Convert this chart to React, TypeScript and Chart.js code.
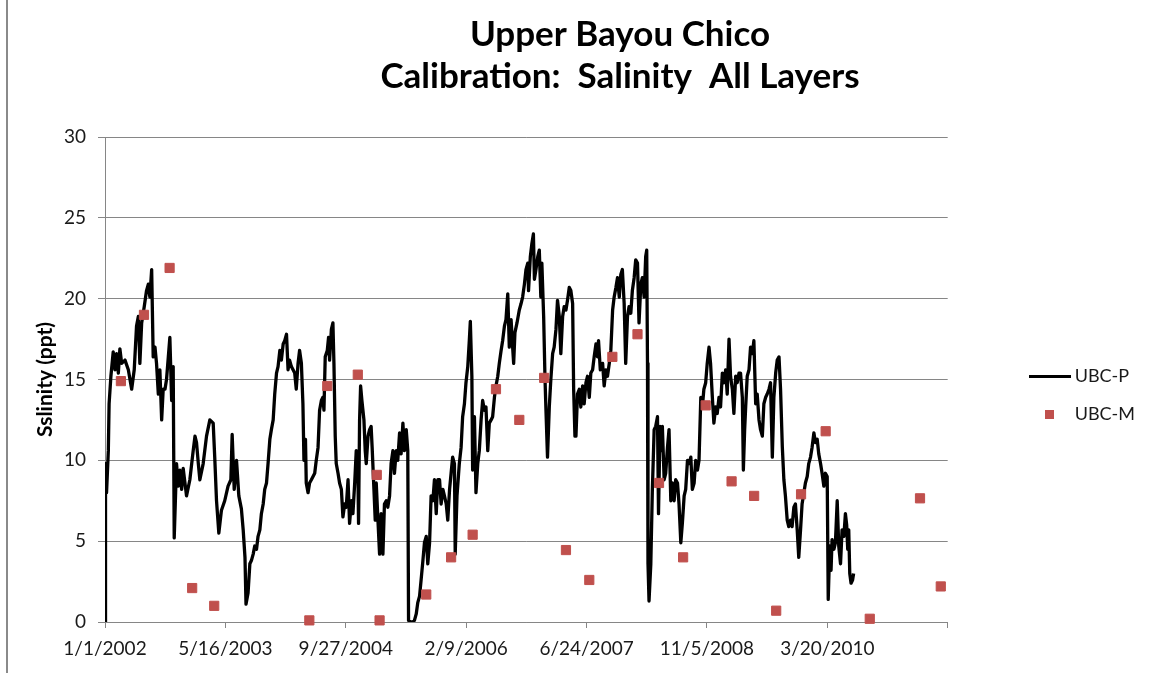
import React, { useEffect, useRef } from "react";
import { Chart, registerables } from "chart.js";

Chart.register(...registerables);

const chartTitle = ["Upper Bayou Chico", "Calibration:  Salinity  All Layers"];
const yAxisTitle = "Sslinity (ppt)";
const seriesNames = ["UBC-P", "UBC-M"];
const xTickLabels = ["1/1/2002", "5/16/2003", "9/27/2004", "2/9/2006", "6/24/2007", "11/5/2008", "3/20/2010"];
const xTickStepDays = 500;
const xMaxDays = 3287;
const yMax = 30;
const yStep = 5;

// UBC-P (model), x = days since 1/1/2002
const modelDays = [
  0, 2, 6, 13, 16, 23, 32, 39, 45, 52,
  58, 65, 78, 91, 104, 114, 123, 130, 136, 143,
  153, 162, 169, 175, 182, 188, 195, 201, 208, 214,
  221, 227, 234, 240, 247, 253, 260, 266, 270, 279,
  286, 292, 299, 305, 318, 331, 344, 351, 357, 364,
  370, 383, 396, 409, 422, 428, 435, 444, 454, 467,
  480, 491, 496, 504, 513, 522, 532, 539, 546, 550,
  558, 565, 571, 578, 584, 591, 597, 604, 610, 617,
  623, 630, 636, 643, 649, 656, 662, 669, 675, 682,
  688, 695, 701, 708, 714, 720, 727, 740, 746, 753,
  759, 766, 772, 776, 782, 785, 792, 798, 805, 818,
  824, 831, 837, 844, 850, 854, 859, 867, 872, 876,
  883, 889, 893, 898, 902, 909, 915, 922, 928, 935,
  941, 948, 954, 961, 967, 974, 980, 987, 989, 993,
  997, 1002, 1010, 1015, 1019, 1026, 1032, 1038, 1042, 1049,
  1054, 1058, 1064, 1071, 1077, 1084, 1090, 1097, 1103, 1110,
  1116, 1123, 1129, 1136, 1142, 1149, 1155, 1162, 1168, 1175,
  1181, 1184, 1192, 1201, 1207, 1214, 1220, 1227, 1233, 1240,
  1246, 1253, 1259, 1266, 1272, 1279, 1285, 1292, 1298, 1305,
  1311, 1318, 1324, 1331, 1337, 1344, 1350, 1356, 1363, 1366,
  1373, 1382, 1389, 1395, 1402, 1408, 1415, 1421, 1425, 1431,
  1434, 1441, 1447, 1454, 1460, 1467, 1473, 1480, 1486, 1493,
  1499, 1506, 1512, 1519, 1525, 1532, 1538, 1545, 1551, 1558,
  1564, 1571, 1577, 1584, 1590, 1594, 1599, 1607, 1616, 1623,
  1629, 1636, 1642, 1649, 1652, 1659, 1665, 1671, 1675, 1681,
  1688, 1694, 1700, 1704, 1711, 1716, 1720, 1726, 1733, 1739,
  1746, 1752, 1759, 1765, 1772, 1778, 1785, 1791, 1798, 1804,
  1811, 1817, 1824, 1828, 1833, 1837, 1843, 1850, 1856, 1863,
  1869, 1876, 1882, 1889, 1895, 1902, 1908, 1915, 1921, 1925,
  1932, 1941, 1947, 1954, 1960, 1967, 1973, 1980, 1986, 1993,
  1999, 2006, 2012, 2018, 2025, 2031, 2038, 2044, 2051, 2057,
  2064, 2070, 2077, 2083, 2090, 2096, 2103, 2109, 2113, 2116,
  2118, 2122, 2129, 2135, 2142, 2148, 2155, 2159, 2165, 2170,
  2174, 2181, 2187, 2194, 2200, 2207, 2213, 2220, 2226, 2233,
  2239, 2246, 2252, 2259, 2265, 2272, 2278, 2285, 2291, 2298,
  2304, 2311, 2317, 2324, 2330, 2336, 2343, 2349, 2356, 2362,
  2369, 2375, 2382, 2388, 2395, 2401, 2408, 2414, 2421, 2427,
  2434, 2440, 2447, 2453, 2460, 2466, 2473, 2479, 2486, 2490,
  2495, 2499, 2505, 2512, 2518, 2525, 2531, 2538, 2544, 2551,
  2557, 2564, 2570, 2577, 2583, 2590, 2596, 2603, 2609, 2616,
  2622, 2629, 2635, 2642, 2648, 2654, 2661, 2667, 2674, 2680,
  2687, 2693, 2700, 2706, 2713, 2719, 2726, 2732, 2739, 2745,
  2752, 2758, 2765, 2771, 2778, 2784, 2791, 2797, 2804, 2810,
  2817, 2821, 2827, 2832, 2836, 2843, 2849, 2856, 2862, 2869,
  2875, 2882, 2888, 2893, 2897, 2901, 2905, 2910, 2916, 2920,
];
const modelSalinity = [
  0, 9.8, 8.0, 10.6, 13.5, 15.2, 16.7, 15.6, 16.6, 15.4,
  16.9, 16.0, 16.2, 15.6, 14.4, 15.6, 18.3, 18.9, 16.0, 18.5,
  19.5, 20.5, 20.9, 20.1, 21.8, 16.4, 17.0, 16.0, 14.1, 15.6,
  12.5, 14.4, 14.4, 15.0, 16.4, 17.6, 13.7, 15.8, 5.2, 9.8,
  8.4, 9.4, 8.2, 9.5, 7.8, 8.8, 10.6, 11.5, 11.1, 9.8,
  8.8, 9.8, 11.5, 12.5, 12.3, 10.2, 7.5, 5.5, 6.9, 7.5,
  8.4, 8.8, 11.6, 8.2, 10.0, 7.8, 7.0, 5.7, 4.0, 1.1,
  1.8, 3.6, 3.8, 4.2, 4.7, 4.5, 5.3, 5.7, 6.7, 7.3,
  8.2, 8.6, 9.8, 11.3, 11.9, 12.5, 14.1, 15.4, 15.8, 16.8,
  16.2, 17.2, 17.4, 17.8, 15.6, 16.2, 15.8, 15.4, 14.4, 16.0,
  16.8, 16.0, 13.5, 10.0, 11.3, 8.6, 8.0, 8.6, 8.8, 9.2,
  10.0, 10.8, 13.1, 13.7, 13.9, 13.1, 16.4, 16.8, 17.6, 16.2,
  18.1, 18.5, 16.0, 11.5, 9.8, 9.2, 8.6, 8.2, 6.5, 7.3,
  7.1, 8.8, 6.1, 7.5, 6.7, 8.6, 10.6, 8.6, 6.1, 12.5,
  14.6, 13.7, 12.5, 10.6, 9.8, 11.5, 11.9, 12.1, 10.8, 8.2,
  6.3, 8.6, 6.5, 4.2, 6.7, 4.2, 7.3, 7.5, 7.1, 7.8,
  9.8, 10.6, 9.2, 10.6, 10.0, 11.7, 10.4, 12.3, 10.6, 11.9,
  10.6, 0.1, 0.0, 0.0, 0.1, 0.5, 1.2, 1.6, 2.6, 3.8,
  4.9, 5.3, 3.6, 4.9, 7.8, 7.5, 8.8, 6.7, 8.8, 8.8,
  7.3, 8.2, 7.8, 7.3, 6.3, 8.2, 9.2, 10.2, 9.8, 4.2,
  7.8, 9.8, 10.8, 12.7, 13.5, 14.8, 15.8, 17.4, 18.6, 15.2,
  9.4, 12.7, 8.0, 9.8, 10.6, 12.5, 13.7, 13.1, 13.3, 10.6,
  12.3, 12.5, 12.7, 13.9, 14.6, 15.2, 16.0, 16.8, 17.4, 18.3,
  18.7, 20.3, 17.0, 18.7, 17.0, 16.0, 17.9, 18.5, 19.3, 19.7,
  20.1, 20.9, 21.8, 22.2, 20.5, 22.6, 23.4, 24.0, 21.2, 21.8,
  22.6, 23.0, 20.1, 22.2, 18.9, 15.2, 13.1, 10.2, 13.3, 15.0,
  16.6, 17.0, 18.1, 19.9, 18.9, 16.6, 18.9, 19.5, 19.3, 19.9,
  20.7, 20.5, 19.7, 14.4, 11.5, 11.5, 14.1, 14.4, 13.3, 14.6,
  13.5, 14.8, 15.2, 13.9, 15.4, 15.6, 16.4, 17.2, 16.4, 17.4,
  15.6, 16.0, 14.6, 15.6, 15.2, 16.0, 16.8, 19.3, 20.1, 20.7,
  21.3, 20.1, 21.5, 21.8, 19.7, 16.0, 18.9, 19.5, 19.1, 20.5,
  21.3, 22.4, 22.2, 18.5, 20.9, 21.3, 20.1, 22.6, 23.0, 16.0,
  3.6, 1.3, 3.6, 8.2, 11.9, 12.1, 12.7, 6.7, 12.1, 10.6,
  12.1, 8.8, 9.2, 10.8, 11.9, 7.5, 8.6, 7.5, 8.8, 8.6,
  7.3, 4.9, 6.1, 7.8, 8.2, 10.0, 9.8, 10.2, 8.2, 8.6,
  10.0, 9.4, 10.0, 13.9, 13.3, 14.4, 14.8, 16.0, 17.0, 16.0,
  13.9, 12.3, 13.3, 12.9, 13.9, 13.3, 15.4, 14.8, 15.6, 14.1,
  17.5, 15.2, 14.4, 12.9, 15.2, 14.8, 15.4, 15.4, 13.9, 9.4,
  11.9, 13.3, 15.2, 15.6, 17.0, 16.6, 17.4, 13.5, 14.1, 12.5,
  11.9, 11.5, 13.5, 13.9, 14.1, 14.4, 14.8, 10.2, 13.9, 15.4,
  16.2, 16.4, 14.4, 10.8, 8.8, 7.8, 6.3, 5.9, 6.3, 5.9,
  7.1, 7.3, 5.7, 4.0, 5.7, 7.3, 8.0, 8.6, 9.0, 9.8,
  10.2, 10.8, 11.7, 11.1, 11.3, 10.4, 9.8, 9.2, 8.4, 9.2,
  9.0, 1.4, 4.7, 3.2, 5.1, 4.5, 4.9, 7.5, 4.7, 3.6,
  5.7, 5.3, 6.7, 6.0, 4.5, 5.7, 3.0, 2.4, 2.6, 3.0,
];

// UBC-M (measured), x = days since 1/1/2002
const measuredDays = [
  62, 152, 252, 340, 426, 797, 867, 986, 1060, 1071,
  1253, 1350, 1434, 1525, 1616, 1713, 1798, 1889, 1979, 2077,
  2161, 2255, 2343, 2444, 2532, 2618, 2715, 2811, 2983, 3179, 3260,
];
const measuredSalinity = [
  14.9, 19.0, 21.9, 2.1, 1.0, 0.1, 14.6, 15.3, 9.1, 0.1,
  1.7, 4.0, 5.4, 14.4, 12.5, 15.1, 4.45, 2.6, 16.4, 17.8,
  8.6, 4.0, 13.4, 8.7, 7.8, 0.7, 7.9, 11.8, 0.2, 7.65, 2.2,
];

const FONT = "Lato, 'Open Sans', sans-serif";
const GRID = "#868686";
const RED = "#C0504D";
const TEXT = "#1a1a1a";

export default function App() {
  const ref = useRef<HTMLCanvasElement | null>(null);

  useEffect(() => {
    const canvas = ref.current;
    if (!canvas) return;

    const lineImg = document.createElement("canvas");
    lineImg.width = 42;
    lineImg.height = 3;
    const lc = lineImg.getContext("2d")!;
    lc.fillStyle = "#000";
    lc.fillRect(0, 0, 42, 3);

    const sqImg = document.createElement("canvas");
    sqImg.width = 9;
    sqImg.height = 9;
    const sc = sqImg.getContext("2d")!;
    sc.fillStyle = RED;
    sc.fillRect(0, 0, 9, 9);

    const titlePlugin = {
      id: "twoLineTitle",
      afterDraw(chart: any) {
        const ctx = chart.ctx;
        ctx.save();
        ctx.font = `bold 35px ${FONT}`;
        ctx.fillStyle = "#000";
        ctx.textAlign = "center";
        ctx.textBaseline = "alphabetic";
        ctx.fillText(chartTitle[0], 611, 46);
        ctx.fillText(chartTitle[1], 611, 88);
        ctx.restore();
      },
    };

    const chart = new Chart(canvas, {
      type: "scatter",
      data: {
        datasets: [
          {
            label: seriesNames[0],
            data: modelDays.map((d, i) => ({ x: d, y: modelSalinity[i] })),
            showLine: true,
            borderColor: "#000",
            backgroundColor: "#000",
            borderWidth: 3.3,
            pointRadius: 0,
            tension: 0,
            borderJoinStyle: "round",
            order: 2,
          } as any,
          {
            label: seriesNames[1],
            data: measuredDays.map((d, i) => ({ x: d, y: measuredSalinity[i] })),
            showLine: false,
            pointStyle: "rect",
            pointRadius: 6.5,
            backgroundColor: RED,
            borderColor: RED,
            borderWidth: 1,
            order: 1,
            clip: false,
          } as any,
        ],
      },
      options: {
        responsive: false,
        animation: false,
        events: [],
        layout: { padding: { top: 137, left: 0, right: 6, bottom: 0 } },
        plugins: {
          title: { display: false },
          tooltip: { enabled: false },
          legend: {
            display: true,
            position: "right",
            fullSize: false,
            title: { display: true, text: "", font: { size: 12 }, padding: { top: 0, bottom: 17 } },
            labels: {
              usePointStyle: true,
              pointStyleWidth: 32,
              boxHeight: 18,
              padding: 20,
              color: TEXT,
              font: { family: FONT, size: 18 },
              generateLabels: (c: any) => {
                const items = (Chart.defaults.plugins.legend.labels as any).generateLabels(c);
                items.sort((a: any, b: any) => a.datasetIndex - b.datasetIndex);
                items.forEach((it: any) => {
                  it.pointStyle = it.datasetIndex === 0 ? lineImg : sqImg;
                  it.fontColor = TEXT;
                });
                return items;
              },
            },
          },
        },
        scales: {
          x: {
            type: "linear",
            position: "bottom",
            min: 0,
            max: xMaxDays,
            grid: { drawOnChartArea: false, drawTicks: true, tickLength: 6, color: GRID },
            border: { color: GRID, width: 1 },
            ticks: {
              stepSize: xTickStepDays,
              includeBounds: false,
              autoSkip: false,
              maxRotation: 0,
              padding: 9,
              color: TEXT,
              font: { family: FONT, size: 19 },
              callback: (v: any) => xTickLabels[Math.round(Number(v) / xTickStepDays)] ?? "",
            },
            afterFit: (s: any) => {
              s.height = 51;
            },
          },
          y: {
            type: "linear",
            position: "left",
            min: 0,
            max: yMax,
            grid: { color: GRID, tickLength: 7, drawTicks: true },
            border: { color: GRID, width: 1 },
            ticks: {
              stepSize: yStep,
              padding: 12,
              color: TEXT,
              font: { family: FONT, size: 19 },
            },
            title: {
              display: true,
              text: yAxisTitle,
              color: "#000",
              font: { family: FONT, size: 21, weight: "bold" },
              padding: { top: 24, bottom: 0 },
            },
            afterFit: (s: any) => {
              s.width = 96;
            },
          },
          legendGap: {
            type: "linear",
            position: "right",
            display: true,
            grid: { display: false, drawTicks: false },
            border: { display: false },
            ticks: { display: false },
            afterFit: (s: any) => {
              s.width = 66;
            },
          },
        },
      } as any,
      plugins: [titlePlugin],
    });

    return () => chart.destroy();
  }, []);

  return (
    <div style={{ position: "relative", width: 1151, height: 673, overflow: "hidden", background: "#fff" }}>
      <style>{`html,body{margin:0;padding:0;overflow:hidden;background:#fff}`}</style>
      <div style={{ position: "absolute", left: 6, top: 0, width: 2, height: 673, background: "#8a8a8a" }} />
      <canvas
        ref={ref}
        width={1142}
        height={673}
        style={{ position: "absolute", left: 9, top: 0, width: 1142, height: 673, display: "block" }}
      />
    </div>
  );
}
